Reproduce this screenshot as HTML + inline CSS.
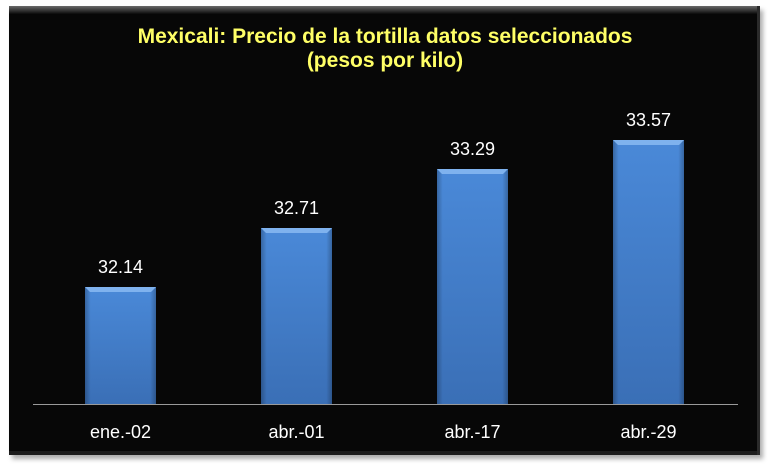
<!DOCTYPE html>
<html><head><meta charset="utf-8"><style>
html,body{margin:0;padding:0;background:#fff;width:770px;height:470px;overflow:hidden}
svg{display:block}
</style></head><body>
<svg width="770" height="470" viewBox="0 0 770 470" xmlns="http://www.w3.org/2000/svg">
<defs>
<linearGradient id="bar" x1="0" y1="0" x2="0" y2="1">
<stop offset="0" stop-color="#4a89d8"/><stop offset="1" stop-color="#3a6fb6"/>
</linearGradient>
<linearGradient id="side" x1="0" y1="0" x2="1" y2="0">
<stop offset="0" stop-color="#000" stop-opacity="0.25"/><stop offset="0.08" stop-color="#000" stop-opacity="0"/>
<stop offset="0.92" stop-color="#000" stop-opacity="0"/><stop offset="1" stop-color="#000" stop-opacity="0.25"/>
</linearGradient>
<linearGradient id="topband" x1="0" y1="0" x2="0" y2="1">
<stop offset="0" stop-color="#6a6a6a"/><stop offset="1" stop-color="#0a0a0a"/>
</linearGradient>
<filter id="sh" x="-5%" y="-5%" width="110%" height="115%"><feGaussianBlur stdDeviation="2.5"/></filter>
</defs>
<rect x="12" y="10" width="751" height="449" fill="#888" filter="url(#sh)" opacity="0.7"/>
<rect x="9" y="6" width="751" height="449" fill="#070707"/>
<rect x="9" y="6" width="751" height="8" fill="url(#topband)"/>
<rect x="9" y="451" width="751" height="4" fill="#1c1c1c"/>
<rect x="757" y="6" width="3" height="449" fill="#2a2a2a"/>
<text x="385" y="43" text-anchor="middle" font-family="Liberation Sans, Arial, sans-serif" font-weight="bold" font-size="21" fill="#ffff66">Mexicali: Precio de la tortilla datos seleccionados</text>
<text x="385" y="67" text-anchor="middle" font-family="Liberation Sans, Arial, sans-serif" font-weight="bold" font-size="21" fill="#ffff66">(pesos por kilo)</text>
<line x1="33" y1="404.5" x2="738" y2="404.5" stroke="#9a9a9a" stroke-width="1"/>
<g>
<rect x="85" y="287" width="71" height="117" fill="url(#bar)"/>
<rect x="85" y="287" width="71" height="117" fill="url(#side)"/>
<polygon points="85,287 156,287 151,292 90,292" fill="#7fb2ee"/>
<rect x="261" y="228" width="71" height="176" fill="url(#bar)"/>
<rect x="261" y="228" width="71" height="176" fill="url(#side)"/>
<polygon points="261,228 332,228 327,233 266,233" fill="#7fb2ee"/>
<rect x="437" y="169" width="71" height="235" fill="url(#bar)"/>
<rect x="437" y="169" width="71" height="235" fill="url(#side)"/>
<polygon points="437,169 508,169 503,174 442,174" fill="#7fb2ee"/>
<rect x="613" y="140" width="71" height="264" fill="url(#bar)"/>
<rect x="613" y="140" width="71" height="264" fill="url(#side)"/>
<polygon points="613,140 684,140 679,145 618,145" fill="#7fb2ee"/>
</g>
<g font-family="Liberation Sans, Arial, sans-serif" font-size="18" fill="#fff" text-anchor="middle">
<text x="120.5" y="273">32.14</text>
<text x="296.5" y="214">32.71</text>
<text x="472.5" y="155">33.29</text>
<text x="648.5" y="126">33.57</text>
<text x="120.5" y="438">ene.-02</text>
<text x="296.5" y="438">abr.-01</text>
<text x="472.5" y="438">abr.-17</text>
<text x="648.5" y="438">abr.-29</text>
</g>
</svg>
</body></html>
